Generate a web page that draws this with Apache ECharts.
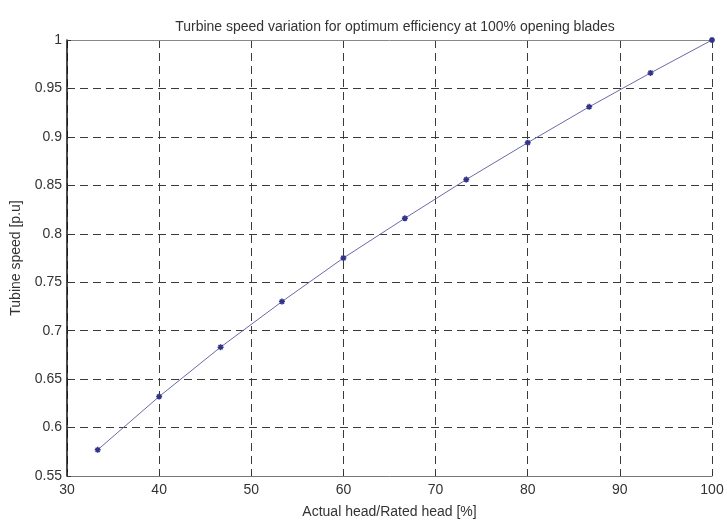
<!DOCTYPE html>
<html>
<head>
<meta charset="utf-8">
<script src="https://cdn.jsdelivr.net/npm/echarts@6/dist/echarts.min.js"></script>
<style>html,body{margin:0;padding:0;background:#fff}#c{width:727px;height:524px}</style>
</head>
<body>
<div id="c"></div>
<script>
const titleText = 'Turbine speed variation for optimum efficiency at 100% opening blades';
const xName = 'Actual head/Rated head [%]';
const yName = 'Tubine speed [p.u]';
const headPct = [33.33, 40, 46.67, 53.33, 60, 66.67, 73.33, 80, 86.67, 93.33, 100];
const speedPu = [0.577, 0.632, 0.683, 0.730, 0.775, 0.816, 0.856, 0.894, 0.931, 0.966, 1.0];

const font = 'Liberation Sans, Arial, sans-serif';
const star = 'path://M0,-10L0,10M-10,0L10,0M-7,-7L7,7M-7,7L7,-7';

const chart = echarts.init(document.getElementById('c'), null, {renderer: 'canvas'});
chart.setOption({
  animation: false,
  backgroundColor: '#fff',
  title: {
    text: titleText, left: 390, top: 15, textAlign: 'center',
    textStyle: {fontFamily: font, fontSize: 14, fontWeight: 'normal', color: '#333'}
  },
  grid: {left: 67, right: 15, top: 40, bottom: 39},
  xAxis: [{
    type: 'value', min: 30, max: 100, interval: 10,
    name: xName, nameLocation: 'middle', nameGap: 29,
    nameTextStyle: {fontFamily: font, fontSize: 14, color: '#333'},
    axisLine: {lineStyle: {color: '#777', width: 1}},
    axisTick: {show: true, inside: true, length: 4, lineStyle: {color: '#333'}},
    axisLabel: {fontFamily: font, fontSize: 14, color: '#333', margin: 7},
    splitLine: {show: true, lineStyle: {color: '#3a3a3a', type: [8, 5], width: 1}}
  }, {
    type: 'value', position: 'top', min: 30, max: 100, interval: 10,
    axisLine: {show: true, lineStyle: {color: '#888', width: 1}},
    axisTick: {show: false}, axisLabel: {show: false}, splitLine: {show: false}
  }],
  yAxis: {
    type: 'value', min: 0.55, max: 1, interval: 0.05,
    name: yName, nameLocation: 'middle', nameGap: 44,
    nameTextStyle: {fontFamily: font, fontSize: 14, color: '#333'},
    axisLine: {show: true, lineStyle: {color: '#111', width: 1.5}},
    axisTick: {show: true, inside: true, length: 4, lineStyle: {color: '#333'}},
    axisLabel: {fontFamily: font, fontSize: 14, color: '#333', margin: 5,
      formatter: v => String(Math.round(v * 100) / 100)},
    splitLine: {show: true, lineStyle: {color: '#3a3a3a', type: [8, 5], width: 1}}
  },
  series: [{
    type: 'line', xAxisIndex: 0,
    data: headPct.map((x, i) => [x, speedPu[i]]),
    lineStyle: {color: '#6a6aa8', width: 1},
    symbol: star, symbolSize: 6,
    itemStyle: {color: '#33338a', borderColor: '#33338a', borderWidth: 1.5},
    z: 5
  }]
});
</script>
</body>
</html>
